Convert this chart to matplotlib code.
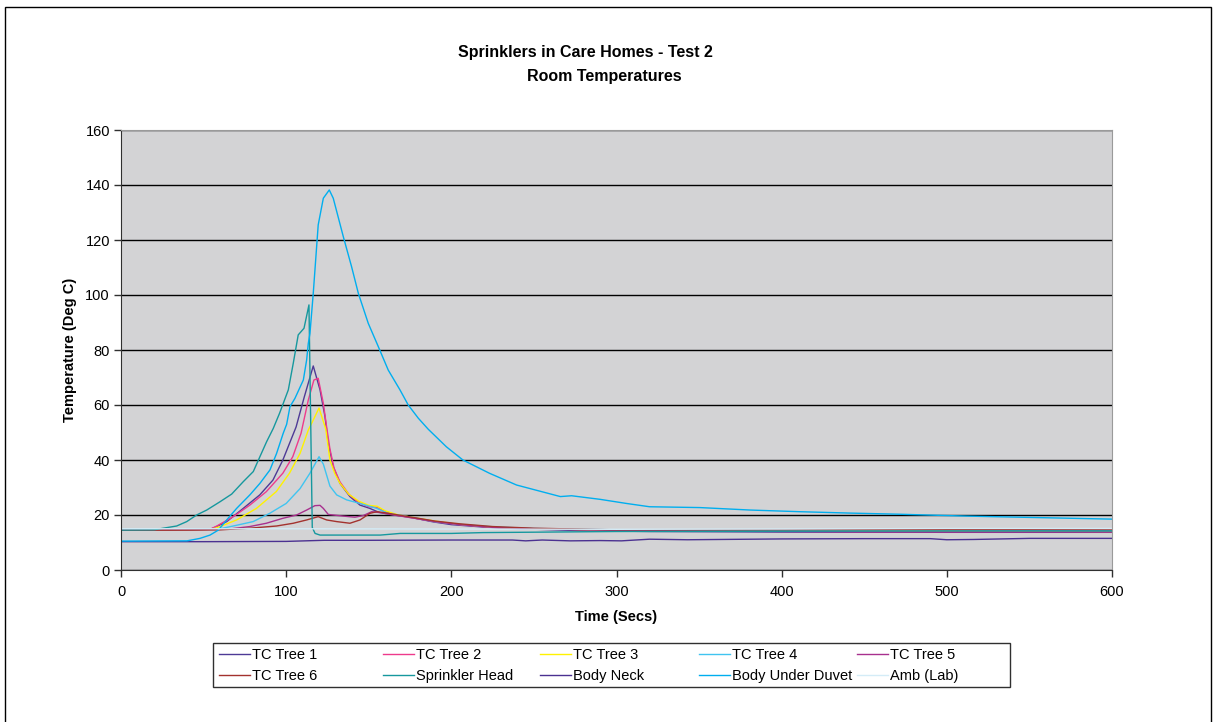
import matplotlib
matplotlib.use("Agg")
import matplotlib.pyplot as plt
from matplotlib.patches import Rectangle

plt.rcParams['font.family'] = ['Liberation Sans', 'DejaVu Sans']

# time (s) and temperature (deg C) for each thermocouple
t_tree1 = [0, 20, 40, 54, 58, 64, 74, 84, 92, 98, 102, 106, 111, 116.4, 120.5, 123.5,
           125.5, 128.5, 132.6, 138.6, 144.7, 150.7, 156, 163, 175, 189, 200, 220,
           240, 280, 320, 400, 500, 600]
tc_tree1 = [14.5, 14.5, 14.6, 14.8, 15.8, 17.6, 22.4, 27.3, 32.7, 40, 46, 52, 63, 74.2,
            65.5, 55.8, 46.1, 37.6, 31.5, 26.7, 23.6, 22.4, 21.0, 20.2, 19.2, 17.5,
            16.5, 15.6, 15.0, 14.3, 14.0, 13.8, 13.7, 13.7]

t_tree2 = [0, 30, 54, 58, 68, 78, 88, 98, 104, 109, 113.4, 116.8, 119.4, 122.5, 124.5,
           126.5, 129, 132.6, 138, 144, 150, 155, 160, 168, 178, 190, 205, 225, 250,
           300, 400, 500, 600]
tc_tree2 = [14.6, 14.6, 14.8, 16.0, 19.4, 23.6, 28.5, 35.2, 41.2, 49.7, 61.8, 69.1,
            69.7, 60.6, 52.0, 44.0, 37.0, 32.0, 27.5, 24.5, 23.0, 22.8, 21.2, 19.8,
            18.8, 17.6, 16.5, 15.5, 15.0, 14.5, 14.5, 14.3, 14.0]

t_tree3 = [0, 30, 55, 60, 70, 82, 94, 102, 108.4, 113.4, 115.4, 119.9, 124, 126.5,
           129.5, 132.6, 138, 144, 150, 155, 160, 168, 178, 190, 205, 225, 250, 300,
           400, 500, 600]
tc_tree3 = [14.6, 14.6, 14.8, 15.8, 18.2, 22.4, 28.5, 35.2, 42.4, 50.9, 53.3, 58.9,
            51.2, 40.0, 35.0, 31.5, 27.5, 25.0, 23.5, 23.2, 21.5, 20.0, 19.0, 17.8,
            16.6, 15.6, 15.0, 14.5, 14.3, 14.2, 14.0]

t_tree4 = [0, 30, 60, 68, 80, 90, 100, 108.4, 114.4, 119.9, 122.5, 126.5, 130.6,
           136.6, 144.7, 154.8, 162, 175, 190, 205, 225, 250, 300, 400, 500, 600]
tc_tree4 = [14.7, 14.7, 15.0, 16.0, 17.6, 20.6, 24.2, 29.6, 35.2, 41.2, 38.5, 30.5,
            27.3, 25.5, 24.2, 22.4, 20.5, 19.3, 17.6, 16.6, 15.7, 15.1, 14.6, 14.5,
            14.6, 14.3]

t_tree5 = [0, 30, 64, 78, 88, 98, 106.3, 112.4, 117.4, 120.5, 122.5, 125.5, 134.6,
           141.6, 146.7, 151.8, 157.8, 165, 178, 190, 205, 225, 250, 300, 350, 400,
           450, 500, 550, 600]
tc_tree5 = [14.6, 14.6, 14.8, 15.8, 17.0, 18.8, 20.0, 21.8, 23.4, 23.5, 22.4, 20.2,
            19.6, 19.2, 19.8, 21.2, 20.8, 20.0, 18.8, 17.6, 16.5, 15.5, 15.0, 14.4,
            14.2, 14.0, 13.8, 13.8, 13.8, 13.8]

t_tree6 = [0, 30, 60, 78, 94.2, 104.3, 112.4, 119.4, 124.5, 130.6, 138.6, 144.7, 150.7,
           154.8, 160, 170, 180, 190, 205, 225, 250, 300, 400, 500, 600]
tc_tree6 = [14.5, 14.5, 14.6, 15.2, 16.0, 17.0, 18.2, 19.4, 18.2, 17.6, 17.0, 18.2,
            20.6, 21.2, 20.8, 19.8, 18.8, 17.8, 16.8, 15.8, 15.2, 14.6, 14.6, 14.7, 14.6]

t_sprinkler = [0, 20, 25.6, 33.7, 39.8, 45.8, 51.9, 59.9, 67, 74, 80.1, 84.1, 88.2,
               92.2, 96, 101.3, 104.3, 107.3, 110.8, 113.8, 115.8, 117.5, 120.5, 140,
               157, 169, 200, 219, 260, 300, 400, 500, 600]
tc_sprinkler = [14.5, 14.6, 15.2, 16.0, 17.6, 20.0, 21.8, 24.8, 27.6, 32.1, 35.8, 41.2,
                46.7, 51.5, 57.0, 65.5, 75.2, 85.5, 87.9, 96.4, 15.5, 13.3, 12.7, 12.7,
                12.7, 13.3, 13.3, 13.6, 13.8, 14.0, 14.1, 14.2, 14.2]

t_neck = [0, 50, 100, 123, 150, 200, 237, 245, 255, 272, 290, 303, 320, 343, 400,
          450, 490, 500, 516, 550, 600]
tc_neck = [10.3, 10.3, 10.4, 10.8, 10.8, 10.9, 10.9, 10.6, 10.9, 10.6, 10.7, 10.6,
           11.2, 11.0, 11.3, 11.4, 11.4, 11.0, 11.1, 11.5, 11.5]

t_duvet = [0, 40, 47.8, 53.9, 58.9, 64, 70, 78, 84.1, 90.2, 94.2, 98.2, 100.3, 102.3,
           105.3, 110.4, 112.4, 113.4, 114.4, 116.4, 119.4, 122.5, 126.1, 128.5, 134.6,
           139.6, 143.7, 149.7, 155.8, 161.8, 168.9, 173.9, 180, 186, 197, 207, 223,
           239.5, 266, 272.8, 290, 306, 320, 350.5, 381, 411, 441, 470, 512, 560, 600]
tc_duvet = [10.5, 10.6, 11.5, 12.7, 14.5, 18.2, 22.4, 27.3, 31.5, 36.4, 42.4, 49.7,
            53.0, 59.4, 62.4, 69.1, 76.4, 82.4, 86.0, 100.6, 125.5, 135.2, 138.2, 135.2,
            121.2, 110.3, 100.6, 89.7, 81.2, 72.7, 65.5, 60.0, 55.2, 51.2, 44.8, 40.0,
            35.2, 30.9, 26.7, 27.0, 25.7, 24.2, 23.0, 22.7, 21.8, 21.2, 20.7, 20.3,
            19.6, 19.0, 18.5]

t_amb = [0, 100, 200, 300, 400, 500, 600]
tc_amb = [15.0, 15.0, 14.9, 14.8, 14.9, 15.1, 15.1]

series = [
    ("TC Tree 1", t_tree1, tc_tree1, "#4e3a96"),
    ("TC Tree 2", t_tree2, tc_tree2, "#ee3a8c"),
    ("TC Tree 3", t_tree3, tc_tree3, "#fff200"),
    ("TC Tree 4", t_tree4, tc_tree4, "#40c4f0"),
    ("TC Tree 5", t_tree5, tc_tree5, "#a8308e"),
    ("TC Tree 6", t_tree6, tc_tree6, "#a3322e"),
    ("Sprinkler Head", t_sprinkler, tc_sprinkler, "#16989e"),
    ("Body Neck", t_neck, tc_neck, "#4b3191"),
    ("Body Under Duvet", t_duvet, tc_duvet, "#00aeef"),
    ("Amb (Lab)", t_amb, tc_amb, "#d4ecf7"),
]

W, H = 1213, 722
fig = plt.figure(figsize=(W / 100, H / 100), dpi=100)
ax = fig.add_axes([121 / W, 152 / H, 991 / W, 440 / H])
ax.set_facecolor("#d3d3d5")

lines = []
for name, t, v, c in series:
    ln, = ax.plot(t, v, color=c, lw=1.0, label=name)
    lines.append(ln)

ax.set_xlim(0, 600)
ax.set_ylim(0, 160)
ax.set_xticks(range(0, 601, 100))
ax.set_yticks(range(0, 161, 20))
ax.yaxis.grid(True, color="black", lw=1.0)
ax.set_axisbelow(True)
ax.tick_params(direction="out", length=5, width=1, color="#303030",
               labelsize=10.5, pad=3)
ax.tick_params(axis="x", pad=6)
for s in ("left", "bottom"):
    ax.spines[s].set_color("#303030")
for s in ("top", "right"):
    ax.spines[s].set_color("#9a9a9a")

ax.set_xlabel("Time (Secs)", fontsize=10.5, fontweight="bold", labelpad=8)
ax.set_ylabel("Temperature (Deg C)", fontsize=10.5, fontweight="bold", labelpad=6)

fig.text(585 / W, 1 - 53 / H, "Sprinklers in Care Homes - Test 2", ha="center",
         va="center", fontsize=11.5, fontweight="bold")
fig.text(604 / W, 1 - 76 / H, "Room Temperatures", ha="center",
         va="center", fontsize=11.5, fontweight="bold")

# legend: five columns of two entries, inside one box
col_x = [219, 383, 540, 699, 857]
for i, x in enumerate(col_x):
    hs = [lines[i], lines[i + 5]]
    leg = fig.legend(hs, [h.get_label() for h in hs], loc="upper left",
                     bbox_to_anchor=(x / W, 1 - 648 / H), frameon=False,
                     fontsize=10.5, handlelength=2.1, handletextpad=0.15,
                     borderpad=0, borderaxespad=0, labelspacing=0.5)
fig.patches.append(Rectangle((213 / W, 1 - 687 / H), 797 / W, 44 / H,
                             transform=fig.transFigure, fill=False,
                             edgecolor="#303030", lw=1.0))

# chart border
fig.patches.append(Rectangle((4.5 / W, -0.01), 1206.5 / W, 1.01 - 6.5 / H,
                             transform=fig.transFigure, fill=False,
                             edgecolor="black", lw=1.0))

fig.savefig("out.png", dpi=100)
